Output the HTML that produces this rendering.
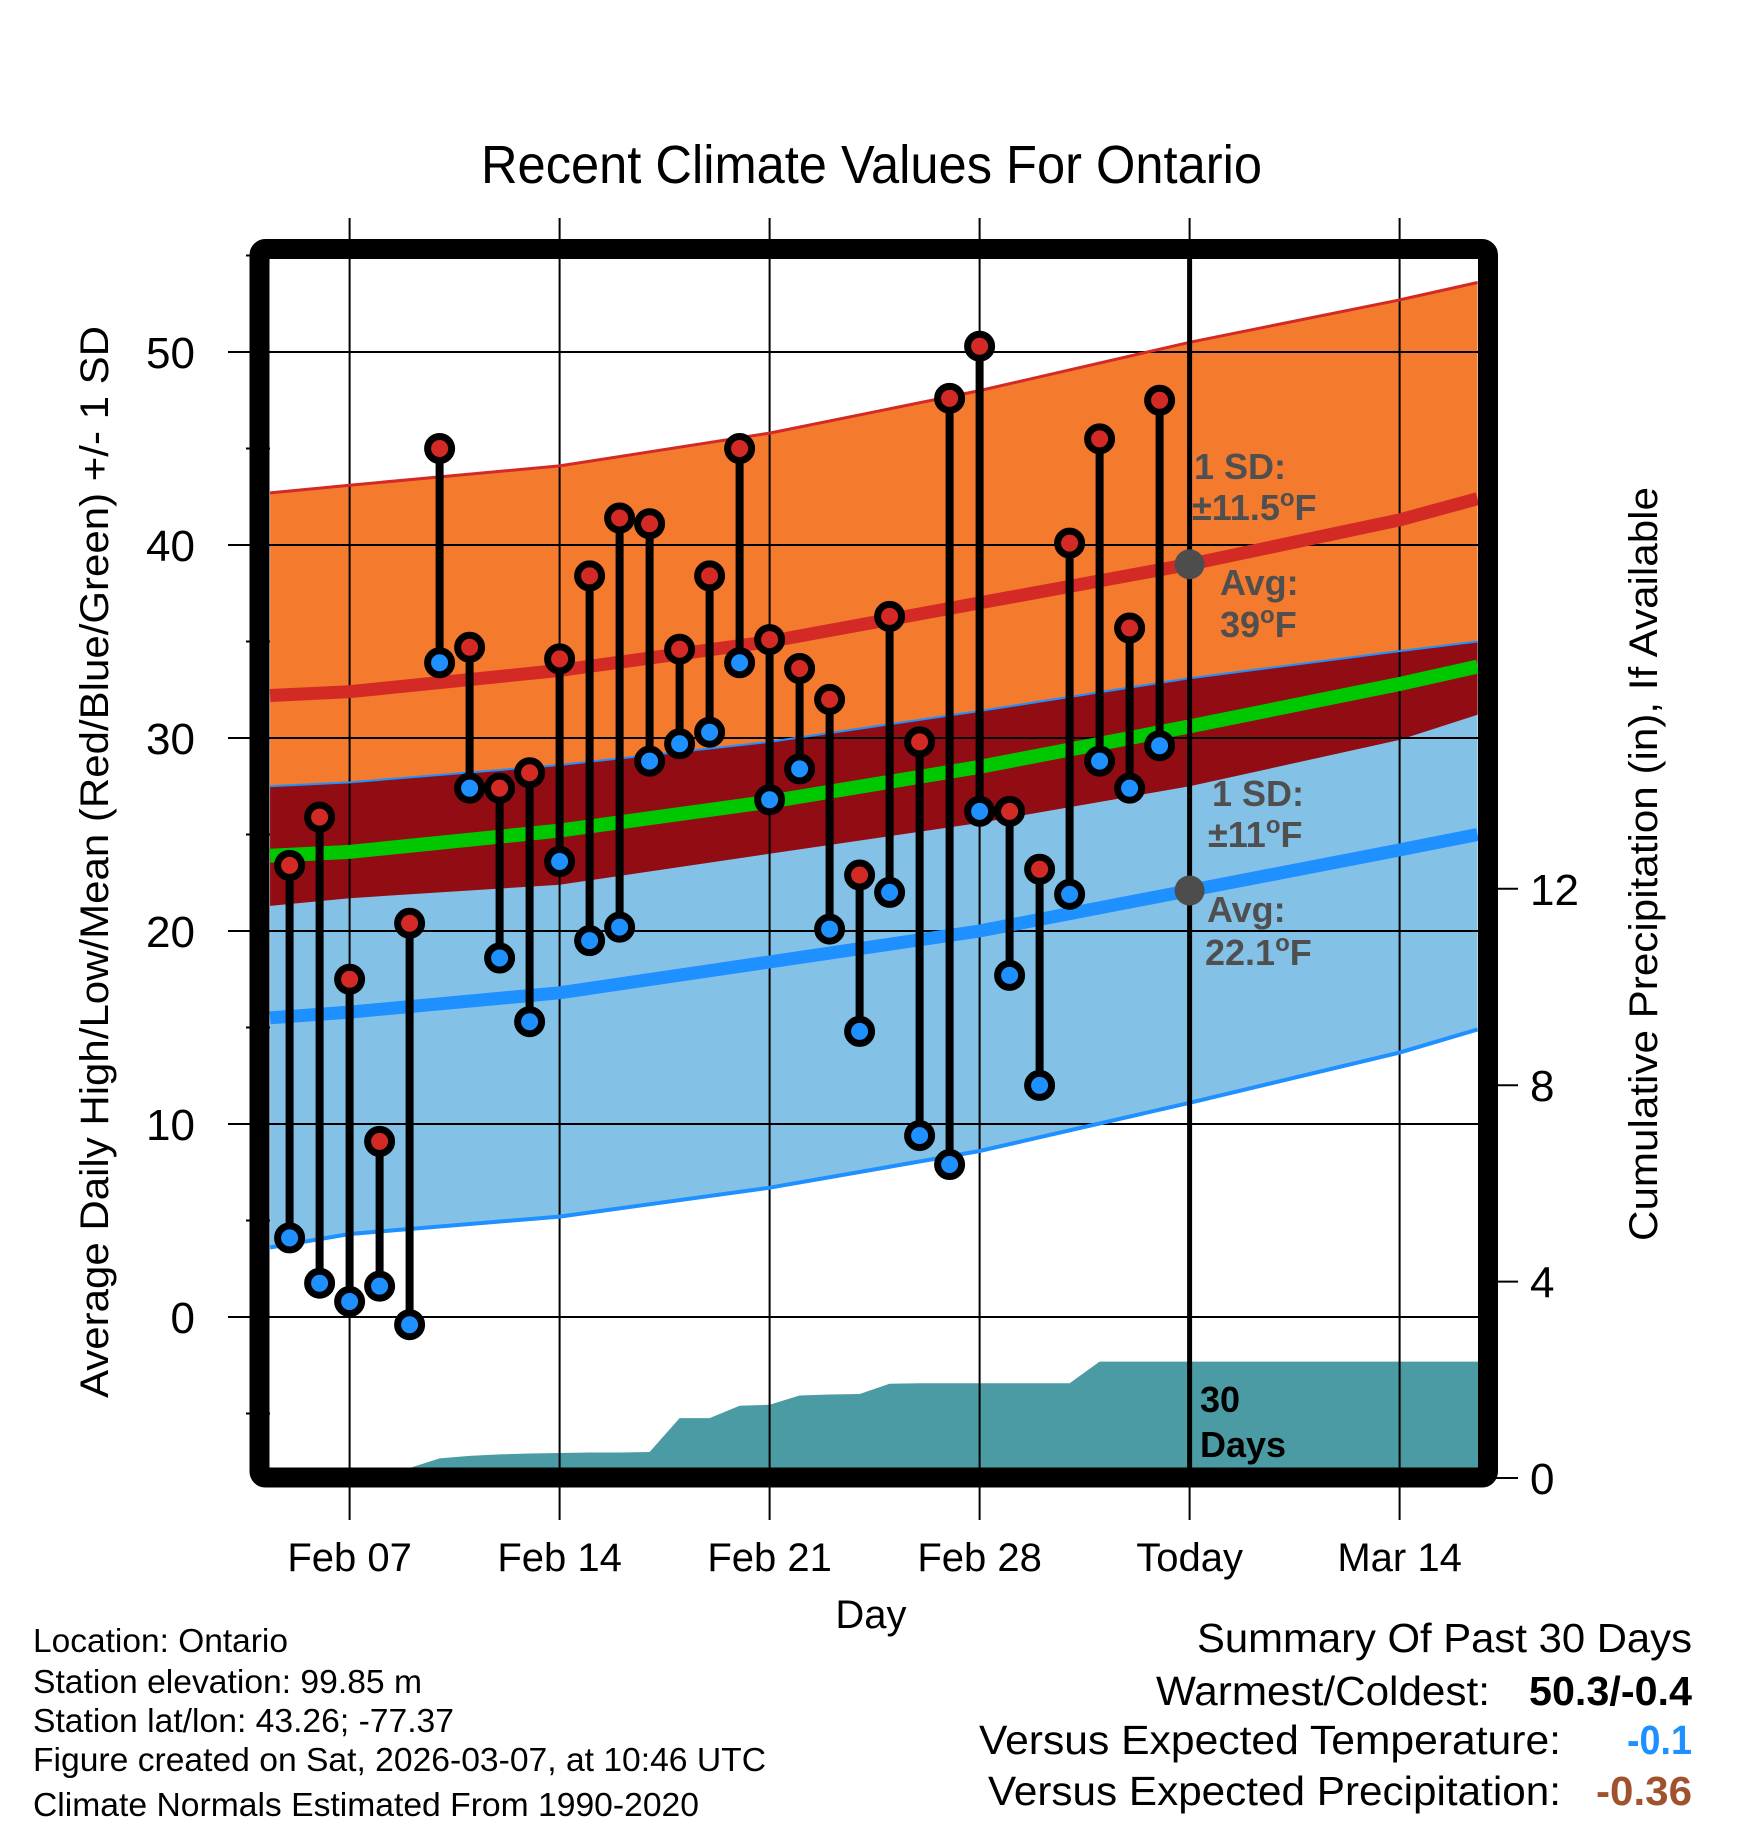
<!DOCTYPE html>
<html><head><meta charset="utf-8"><style>
html,body{margin:0;padding:0;background:#fff;}
svg{display:block;}
text{font-family:"Liberation Sans",Arial,sans-serif;}
</style></head><body>
<svg id="chart" width="1748" height="1828" viewBox="0 0 1748 1828" xmlns="http://www.w3.org/2000/svg">
<rect x="0" y="0" width="1748" height="1828" fill="#fff"/>
<g id="bands"></g>
<g id="precip"></g>
<g id="grid"></g>
<g id="lines"></g>
<g id="marks"></g>
<g id="frame"></g>

<text x="481" y="183" font-size="54" textLength="781" lengthAdjust="spacingAndGlyphs">Recent Climate Values For Ontario</text>
<text transform="translate(108,862) rotate(-90)" text-anchor="middle" font-size="40" textLength="1072" lengthAdjust="spacingAndGlyphs">Average Daily High/Low/Mean (Red/Blue/Green) +/- 1 SD</text>
<text transform="translate(1657,864) rotate(-90)" text-anchor="middle" font-size="40" textLength="754" lengthAdjust="spacingAndGlyphs">Cumulative Precipitation (in), If Available</text>
<text x="871" y="1628" text-anchor="middle" font-size="40">Day</text>
<g id="ylabels"></g>
<g id="y2labels"></g>
<g id="xlabels"></g>

<g fill="#4f4f4f" font-weight="bold" font-size="36">
<text x="1194" y="479">1 SD:</text>
<text x="1192" y="520">±11.5<tspan dy="-14" font-size="24">o</tspan><tspan dy="14">F</tspan></text>
<text x="1220" y="595">Avg:</text>
<text x="1220" y="637">39<tspan dy="-14" font-size="24">o</tspan><tspan dy="14">F</tspan></text>
<text x="1212" y="806">1 SD:</text>
<text x="1208" y="847">±11<tspan dy="-14" font-size="24">o</tspan><tspan dy="14">F</tspan></text>
<text x="1207" y="922">Avg:</text>
<text x="1205" y="965">22.1<tspan dy="-14" font-size="24">o</tspan><tspan dy="14">F</tspan></text>
</g>
<text x="1200" y="1412" font-size="36" font-weight="bold">30</text>
<text x="1200" y="1457" font-size="36" font-weight="bold">Days</text>

<g font-size="33">
<text x="33" y="1652" textLength="255" lengthAdjust="spacingAndGlyphs">Location: Ontario</text>
<text x="33" y="1693" textLength="389" lengthAdjust="spacingAndGlyphs">Station elevation: 99.85 m</text>
<text x="33" y="1732" textLength="421" lengthAdjust="spacingAndGlyphs">Station lat/lon: 43.26; -77.37</text>
<text x="33" y="1771" textLength="733" lengthAdjust="spacingAndGlyphs">Figure created on Sat, 2026-03-07, at 10:46 UTC</text>
<text x="33" y="1816" textLength="666" lengthAdjust="spacingAndGlyphs">Climate Normals Estimated From 1990-2020</text>
</g>
<g font-size="41">
<text x="1197" y="1652" textLength="495" lengthAdjust="spacingAndGlyphs">Summary Of Past 30 Days</text>
<text x="1156" y="1705" textLength="334" lengthAdjust="spacingAndGlyphs">Warmest/Coldest:</text>
<text x="1529" y="1705" font-weight="bold" textLength="163" lengthAdjust="spacingAndGlyphs">50.3/-0.4</text>
<text x="979" y="1754" textLength="582" lengthAdjust="spacingAndGlyphs">Versus Expected Temperature:</text>
<text x="1627" y="1754" font-weight="bold" fill="#1e90ff" textLength="65" lengthAdjust="spacingAndGlyphs">-0.1</text>
<text x="988" y="1805" textLength="573" lengthAdjust="spacingAndGlyphs">Versus Expected Precipitation:</text>
<text x="1596" y="1805" font-weight="bold" fill="#a0522d" textLength="96" lengthAdjust="spacingAndGlyphs">-0.36</text>
</g>
</svg>
<script>
// ---- data ----
const dayOffsets = [-2,-1,0,1,2,3,4,5,6,7,8,9,10,11,12,13,14,15,16,17,18,19,20,21,22,23,24,25,26,27]; // days since Feb 07
const highs = [23.4,25.9,17.5,9.1,20.4,45.0,34.7,27.4,28.2,34.1,38.4,41.4,41.1,34.6,38.4,45.0,35.1,33.6,32.0,22.9,36.3,29.8,47.6,50.3,26.2,23.2,40.1,45.5,35.7,47.5];
const lows  = [4.1,1.75,0.8,1.6,-0.4,33.9,27.4,18.6,15.3,23.6,19.5,20.2,28.8,29.7,30.3,33.9,26.8,28.4,20.1,14.8,22.0,9.4,7.9,26.2,17.7,12.0,21.9,28.8,27.4,29.6];
const precipCum = [0,0,0,0,0,0.40,0.45,0.48,0.50,0.51,0.52,0.52,0.53,1.22,1.22,1.47,1.49,1.68,1.70,1.71,1.92,1.93,1.93,1.93,1.93,1.93,1.93,2.37,2.37,2.37];
const normDays = [-2.65,0,7,14,21,28,35,37.6];
const hiAvg = [32.2,32.4,33.5,35.0,37.0,39.0,41.3,42.4];
const hiUp  = [42.7,43.1,44.1,45.8,48.0,50.5,52.7,53.6];
const hiLo  = [21.3,21.7,22.4,24.0,25.6,27.5,29.9,31.2];
const loAvg = [15.5,15.8,16.8,18.4,20.0,22.1,24.2,25.0];
const loUp  = [27.5,27.7,28.6,29.8,31.4,33.1,34.5,35.0];
const loLo  = [3.6,4.3,5.2,6.7,8.6,11.1,13.7,14.9];
const meanAvg = [23.9,24.1,25.2,26.7,28.5,30.6,32.8,33.7];
const yTicks = [0,10,20,30,40,50];
const y2Ticks = [0,4,8,12];
const xTickDays = [0,7,14,21,28,35];
const xTickLabels = ["Feb 07","Feb 14","Feb 21","Feb 28","Today","Mar 14"];
const todayDay = 28;
const todayHiAvg = 39.0, todayLoAvg = 22.1;

// ---- scales ----
const L=270, R=1478, T=259, B=1468;
const X = d => 349.6 + 30*d;
const Y = v => 1317 - 19.3*v;
const PY = p => 1478 - 49.1*p;
const NS='http://www.w3.org/2000/svg';
function mk(tag, parent, attrs){const e=document.createElementNS(NS,tag);for(const k in attrs)e.setAttribute(k,attrs[k]);parent.appendChild(e);return e;}
const pts = arr => arr.map((v,i)=>X(normDays[i]).toFixed(1)+','+Y(v).toFixed(1));
function band(up, lo){return 'M'+pts(up).join(' L')+' L'+pts(lo).reverse().join(' L')+' Z';}
function line(arr){return 'M'+pts(arr).join(' L');}

const bands=document.getElementById('bands');
let e;
e=mk('path',bands,{d:band(hiUp,hiLo),fill:'#f47a2e'});


e=mk('path',bands,{d:band(loUp,loLo),fill:'#84c1e7'});


e=mk('path',bands,{d:band(loUp,hiLo),fill:'#920c13'});



// precip
const pg=document.getElementById('precip');
let pd='M'+L+','+B+' L'+L+','+PY(0);
dayOffsets.forEach((d,i)=>{pd+=' L'+X(d).toFixed(1)+','+Math.min(B,PY(precipCum[i])).toFixed(1);});
pd+=' L'+R+','+PY(precipCum[precipCum.length-1]).toFixed(1)+' L'+R+','+B+' Z';
e=mk('path',pg,{d:pd,fill:'#4a9ba4'});



// grid
const gg=document.getElementById('grid');
yTicks.forEach(v=>{
  e=mk('line',gg,{x1:228,x2:R,y1:Y(v),y2:Y(v),stroke:'#000','stroke-width':2});
  
  
});
for(let v=-5; v<=55; v+=10){
  e=mk('line',gg,{x1:246,x2:L,y1:Y(v),y2:Y(v),stroke:'#000','stroke-width':2});
  
  
}
xTickDays.forEach(d=>{
  e=mk('line',gg,{x1:X(d),x2:X(d),y1:218,y2:1520,stroke:'#000','stroke-width':2});
  
  
});
y2Ticks.forEach(p=>{
  e=mk('line',gg,{x1:R,x2:1518,y1:PY(p),y2:PY(p),stroke:'#000','stroke-width':2});
  
  
});

// lines
const lg=document.getElementById('lines');
e=mk('path',lg,{d:line(hiUp),fill:'none',stroke:'#d32a26','stroke-width':3});


e=mk('path',lg,{d:line(loUp),fill:'none',stroke:'#1e90ff','stroke-width':2});


e=mk('path',lg,{d:line(loLo),fill:'none',stroke:'#1e90ff','stroke-width':4});


e=mk('path',lg,{d:line(meanAvg),fill:'none',stroke:'#00c800','stroke-width':14});


e=mk('path',lg,{d:line(hiAvg),fill:'none',stroke:'#d32a26','stroke-width':13});


e=mk('path',lg,{d:line(loAvg),fill:'none',stroke:'#1e90ff','stroke-width':13});



// marks
const mg=document.getElementById('marks');
e=mk('line',mg,{x1:X(todayDay),x2:X(todayDay),y1:T,y2:B,stroke:'#000','stroke-width':5});


e=mk('circle',mg,{cx:X(todayDay),cy:Y(todayHiAvg),r:15,fill:'#4d4d4d'});


e=mk('circle',mg,{cx:X(todayDay),cy:Y(todayLoAvg),r:15,fill:'#4d4d4d'});


dayOffsets.forEach((d,i)=>{
  const x=X(d);
  e=mk('line',mg,{x1:x,x2:x,y1:Y(highs[i]),y2:Y(lows[i]),stroke:'#000','stroke-width':8});
  
  
  e=mk('circle',mg,{cx:x,cy:Y(highs[i]),r:12,fill:'#d32a26',stroke:'#000','stroke-width':7});
  
  
  e=mk('circle',mg,{cx:x,cy:Y(lows[i]),r:12,fill:'#1e90ff',stroke:'#000','stroke-width':7});
  
  
});

// frame
const fg=document.getElementById('frame');
e=mk('rect',fg,{x:259.5,y:249,width:1228.5,height:1228.5,rx:6,fill:'none',stroke:'#000','stroke-width':20});



// labels
const yl=document.getElementById('ylabels');
yTicks.forEach(v=>{
  e=mk('text',yl,{x:195,y:Y(v)+16,'text-anchor':'end','font-size':44});
  e.textContent=String(v);
  
  
});
const y2l=document.getElementById('y2labels');
y2Ticks.forEach(p=>{
  e=mk('text',y2l,{x:1530,y:PY(p)+16,'font-size':44});
  e.textContent=String(p);
  
  
});
const xl=document.getElementById('xlabels');
xTickDays.forEach((d,i)=>{
  e=mk('text',xl,{x:X(d),y:1571,'text-anchor':'middle','font-size':40});
  e.textContent=xTickLabels[i];
  
  
});
</script>
</body></html>
